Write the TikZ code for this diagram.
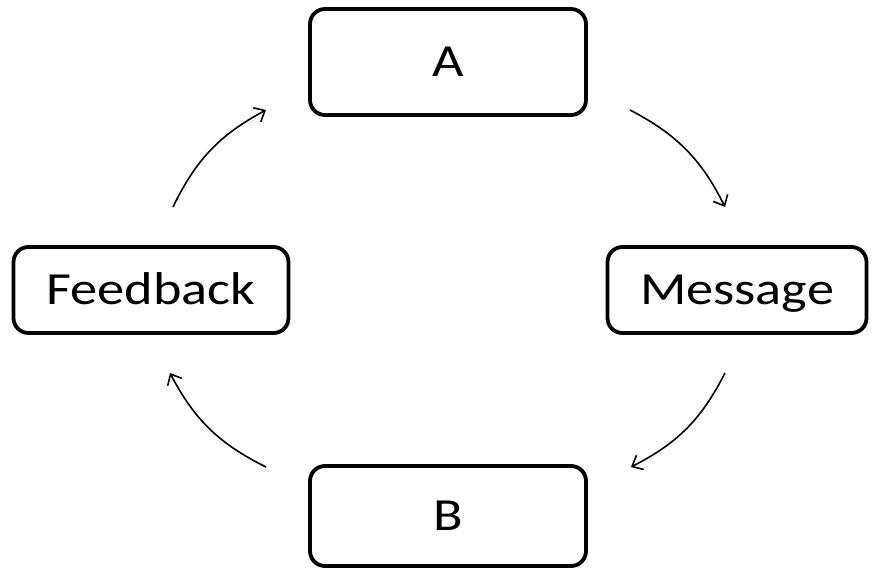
\documentclass[tikz,border=0pt]{standalone}
\usepackage{fontspec}
\setmainfont{Carlito}[FakeStretch=1.18]
\usetikzlibrary{arrows.meta}
\begin{document}
\begin{tikzpicture}[x=1pt,y=-1pt,
  box/.style={draw=black, line width=3.8pt, rounded corners=15pt, fill=white,
    inner sep=0pt, text height=29.6pt, text depth=0pt, font=\fontsize{46}{50}\selectfont},
  flow/.style={line width=1.6pt, -{Straight Barb[length=9pt,width=16pt,line width=1.6pt]}, bend left=18}]
\useasboundingbox (0,0) rectangle (875,569);
\node[box, minimum width=276pt, minimum height=106pt] (A) at (448,62) {A};
\node[box, minimum width=275pt, minimum height=86pt] (F) at (151,290) {Feedback};
\node[box, minimum width=259pt, minimum height=86pt] (M) at (737,290) {Message};
\node[box, minimum width=276pt, minimum height=100pt] (B) at (448,516) {B};
\coordinate (f1) at (173,207); \coordinate (f2) at (266,110);
\coordinate (a1) at (630,110); \coordinate (a2) at (725,207);
\coordinate (m1) at (725,373); \coordinate (m2) at (631,467);
\coordinate (b1) at (266,467); \coordinate (b2) at (170,373);
\draw[flow] (f1) to (f2);
\draw[flow] (a1) to (a2);
\draw[flow] (m1) to (m2);
\draw[flow] (b1) to (b2);
\end{tikzpicture}
\end{document}
